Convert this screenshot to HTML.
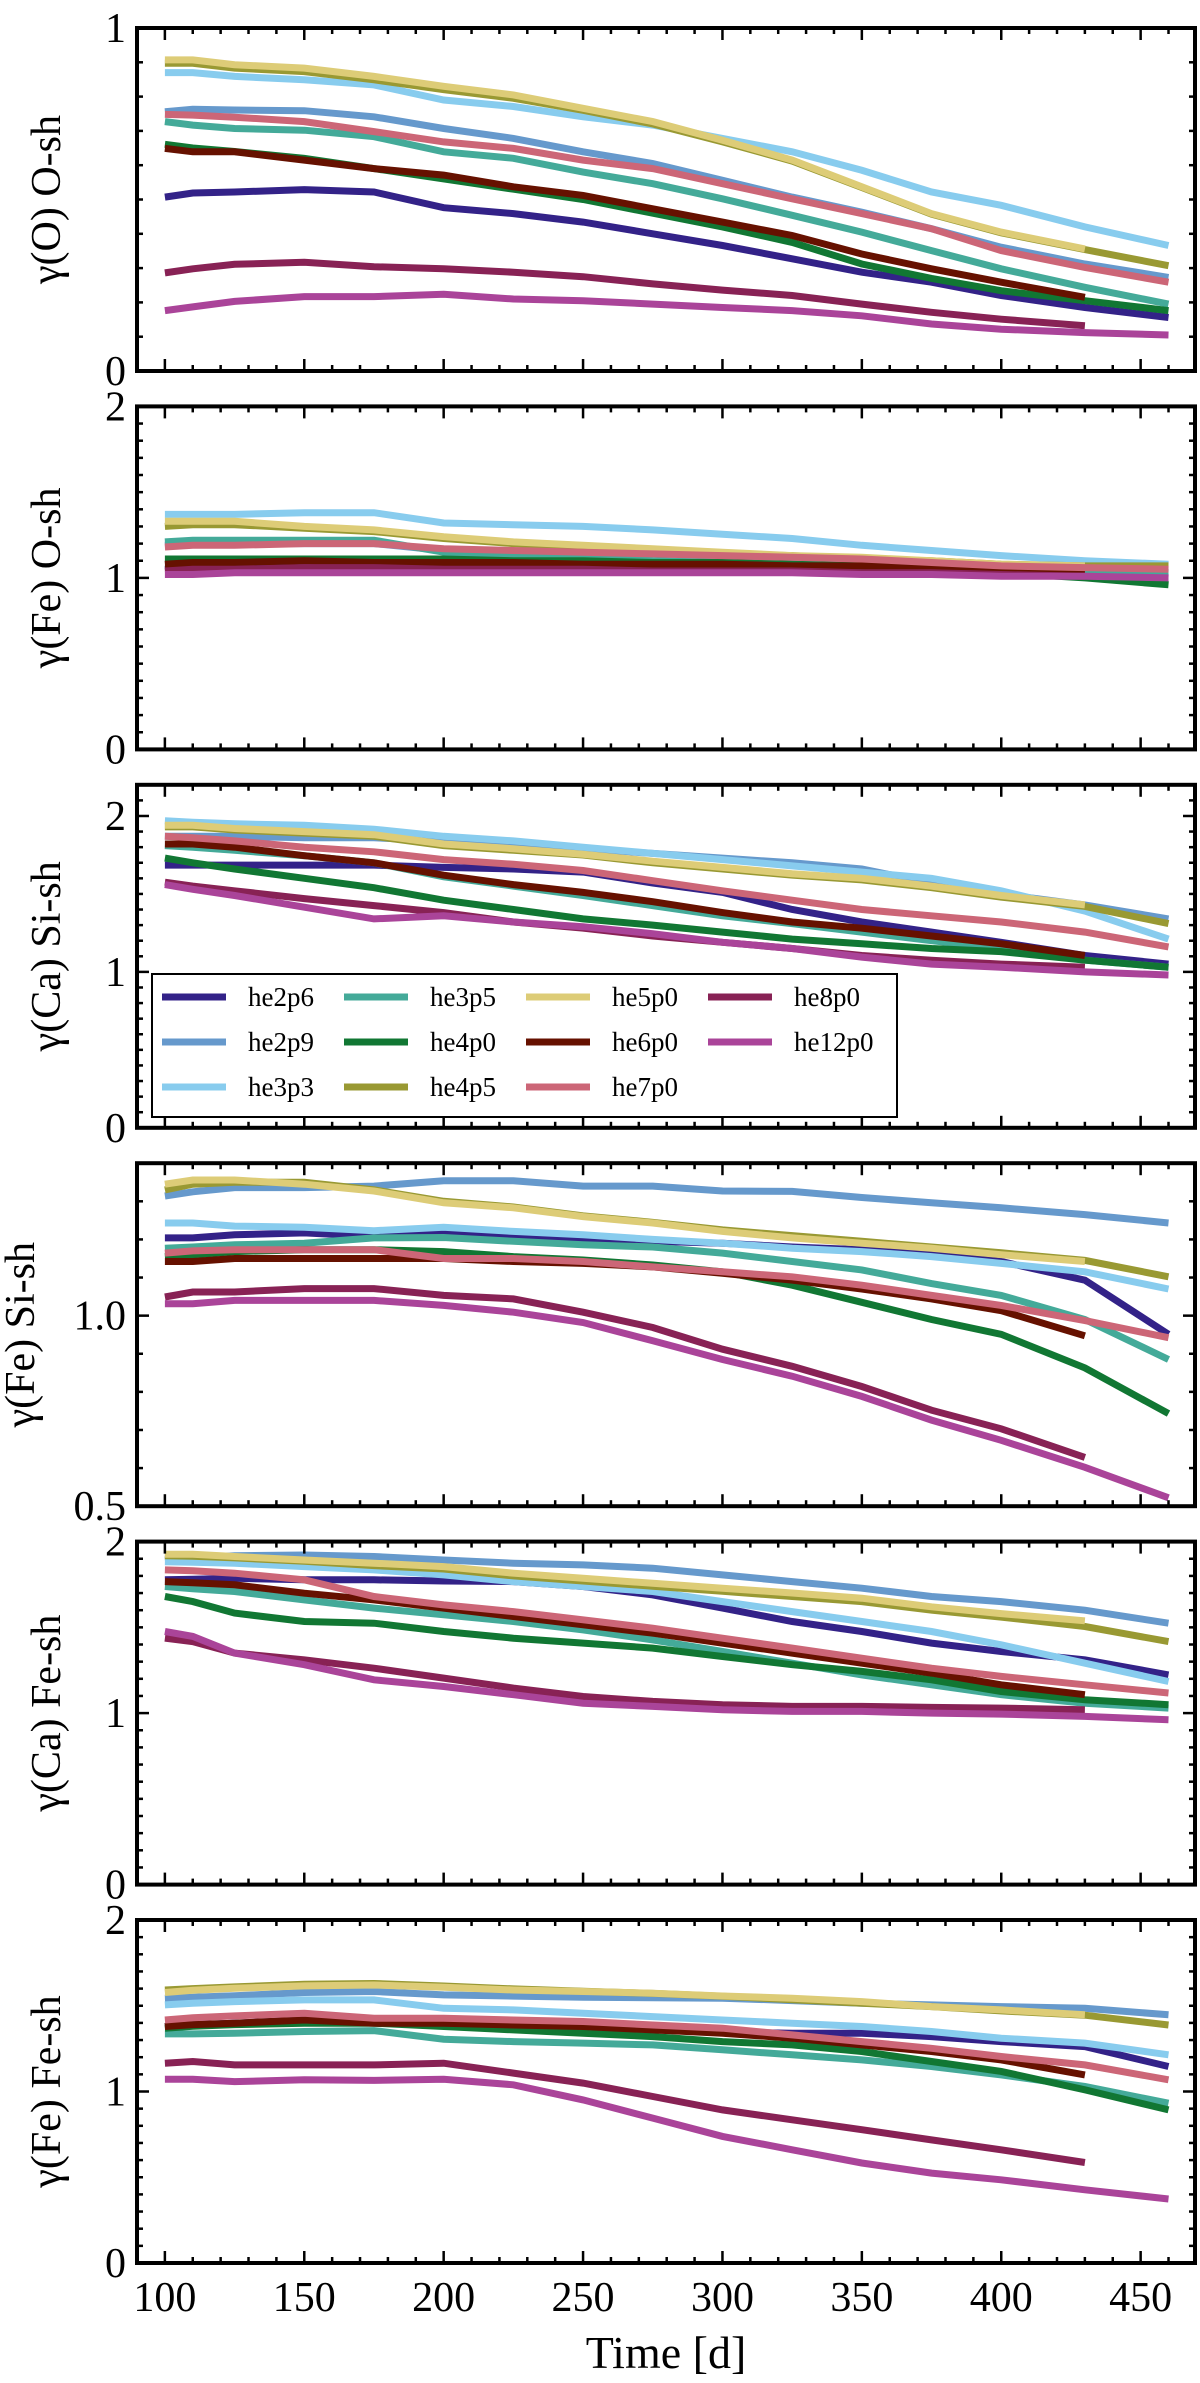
<!DOCTYPE html>
<html><head><meta charset="utf-8"><style>
html,body{margin:0;padding:0;background:#fff;}
svg{display:block;font-family:"Liberation Serif",serif;}
</style></head><body>
<svg id="chart" width="1200" height="2383" viewBox="0 0 1200 2383" xmlns="http://www.w3.org/2000/svg"></svg>
<script>
const times = [100,110,125,150,175,200,225,250,275,300,325,350,375,400,430,460];
const seriesNames = ["he2p6","he2p9","he3p3","he3p5","he4p0","he4p5","he5p0","he6p0","he7p0","he8p0","he12p0"];
const seriesColors = ["#332288","#6699CC","#88CCEE","#44AA99","#117733","#999933","#DDCC77","#661100","#CC6677","#882255","#AA4499"];
const xTicks = [100,150,200,250,300,350,400,450];

const p1 = {
he2p6:[0.507,0.519,0.522,0.529,0.522,0.476,0.459,0.434,0.40,0.366,0.327,0.288,0.259,0.22,0.185,0.156],
he2p9:[0.756,0.763,0.761,0.759,0.741,0.707,0.678,0.639,0.605,0.556,0.507,0.463,0.415,0.361,0.312,0.273],
he3p3:[0.87,0.87,0.859,0.849,0.834,0.79,0.771,0.741,0.717,0.678,0.639,0.585,0.522,0.483,0.42,0.366],
he3p5:[0.727,0.717,0.707,0.702,0.683,0.639,0.62,0.58,0.546,0.502,0.454,0.405,0.351,0.298,0.244,0.195],
he4p0:[0.661,0.65,0.64,0.62,0.59,0.56,0.53,0.50,0.46,0.42,0.375,0.312,0.27,0.234,0.205,0.176],
he4p5:[0.897,0.897,0.883,0.873,0.849,0.82,0.795,0.76,0.72,0.668,0.612,0.535,0.457,0.403,0.354,0.307],
he5p0:[0.907,0.907,0.893,0.883,0.859,0.83,0.805,0.766,0.727,0.673,0.615,0.537,0.459,0.405,0.356],
he6p0:[0.649,0.639,0.639,0.615,0.59,0.571,0.537,0.512,0.473,0.434,0.395,0.341,0.298,0.259,0.215],
he7p0:[0.748,0.746,0.74,0.727,0.698,0.668,0.649,0.615,0.59,0.546,0.502,0.459,0.415,0.351,0.302,0.259],
he8p0:[0.286,0.298,0.311,0.317,0.304,0.298,0.288,0.275,0.254,0.236,0.22,0.195,0.171,0.151,0.132],
he12p0:[0.176,0.187,0.203,0.217,0.217,0.224,0.21,0.205,0.195,0.185,0.176,0.161,0.137,0.122,0.112,0.105]
};
const p2 = {
he2p6:[1.05,1.06,1.06,1.06,1.06,1.05,1.05,1.04,1.04,1.04,1.04,1.03,1.03,1.02,1.01,1.0],
he2p9:[1.19,1.2,1.2,1.2,1.2,1.16,1.14,1.12,1.1,1.09,1.08,1.07,1.06,1.05,1.04,1.03],
he3p3:[1.37,1.37,1.37,1.38,1.38,1.32,1.31,1.30,1.28,1.255,1.23,1.19,1.16,1.13,1.10,1.08],
he3p5:[1.21,1.22,1.22,1.22,1.22,1.15,1.13,1.12,1.10,1.09,1.08,1.07,1.06,1.05,1.04,1.03],
he4p0:[1.11,1.11,1.11,1.11,1.11,1.11,1.10,1.10,1.09,1.09,1.08,1.07,1.05,1.03,1.0,0.96],
he4p5:[1.30,1.31,1.31,1.29,1.27,1.23,1.20,1.18,1.16,1.14,1.13,1.11,1.10,1.08,1.07,1.07],
he5p0:[1.33,1.33,1.33,1.30,1.28,1.24,1.21,1.19,1.17,1.15,1.13,1.12,1.10,1.08,1.07],
he6p0:[1.08,1.09,1.09,1.10,1.09,1.09,1.09,1.08,1.08,1.08,1.07,1.07,1.06,1.05,1.03],
he7p0:[1.18,1.19,1.19,1.20,1.20,1.17,1.16,1.15,1.14,1.13,1.12,1.11,1.09,1.07,1.06,1.05],
he8p0:[1.04,1.05,1.05,1.06,1.06,1.05,1.05,1.05,1.04,1.04,1.04,1.03,1.03,1.02,1.01],
he12p0:[1.02,1.02,1.03,1.03,1.03,1.03,1.03,1.03,1.03,1.03,1.03,1.02,1.02,1.01,1.01,1.0]
};
const p3 = {
he2p6:[1.685,1.685,1.685,1.685,1.685,1.67,1.66,1.64,1.57,1.51,1.40,1.32,1.255,1.19,1.105,1.05],
he2p9:[1.87,1.87,1.87,1.86,1.86,1.84,1.82,1.79,1.76,1.73,1.70,1.66,1.57,1.50,1.43,1.34],
he3p3:[1.97,1.96,1.95,1.94,1.915,1.87,1.84,1.80,1.76,1.72,1.68,1.64,1.60,1.52,1.39,1.21],
he3p5:[1.81,1.80,1.78,1.745,1.70,1.61,1.55,1.49,1.425,1.36,1.31,1.255,1.20,1.15,1.075,1.03],
he4p0:[1.73,1.70,1.66,1.60,1.54,1.46,1.40,1.34,1.30,1.255,1.21,1.18,1.15,1.13,1.075,1.03],
he4p5:[1.93,1.93,1.91,1.89,1.87,1.81,1.78,1.75,1.70,1.66,1.62,1.59,1.54,1.48,1.42,1.31],
he5p0:[1.94,1.94,1.92,1.90,1.88,1.82,1.79,1.755,1.71,1.67,1.63,1.60,1.55,1.49,1.43],
he6p0:[1.82,1.82,1.80,1.745,1.70,1.62,1.56,1.51,1.45,1.38,1.32,1.28,1.23,1.18,1.105],
he7p0:[1.87,1.86,1.84,1.80,1.77,1.72,1.69,1.65,1.585,1.52,1.46,1.40,1.36,1.32,1.255,1.16],
he8p0:[1.575,1.55,1.52,1.47,1.425,1.38,1.32,1.28,1.23,1.19,1.15,1.105,1.075,1.05,1.03],
he12p0:[1.56,1.53,1.49,1.415,1.34,1.36,1.32,1.29,1.245,1.19,1.15,1.095,1.05,1.03,1.0,0.98]
};
const p4 = {
he2p6:[1.204,1.204,1.212,1.217,1.208,1.217,1.208,1.2,1.195,1.19,1.18,1.173,1.16,1.142,1.093,0.951],
he2p9:[1.314,1.325,1.336,1.336,1.34,1.354,1.354,1.34,1.34,1.327,1.326,1.31,1.296,1.283,1.265,1.243],
he3p3:[1.243,1.243,1.235,1.232,1.223,1.232,1.221,1.212,1.2,1.19,1.177,1.168,1.155,1.137,1.115,1.07],
he3p5:[1.177,1.18,1.186,1.19,1.204,1.205,1.195,1.186,1.18,1.164,1.142,1.12,1.084,1.053,0.99,0.885],
he4p0:[1.155,1.16,1.168,1.173,1.173,1.168,1.155,1.146,1.133,1.115,1.08,1.035,0.99,0.951,0.863,0.743],
he4p5:[1.33,1.345,1.35,1.35,1.33,1.30,1.285,1.262,1.245,1.225,1.21,1.195,1.18,1.165,1.145,1.102],
he5p0:[1.345,1.356,1.356,1.345,1.327,1.296,1.283,1.26,1.243,1.221,1.204,1.19,1.177,1.16,1.142],
he6p0:[1.142,1.142,1.15,1.15,1.15,1.15,1.142,1.137,1.128,1.111,1.093,1.07,1.044,1.013,0.947],
he7p0:[1.164,1.17,1.173,1.173,1.173,1.15,1.15,1.142,1.128,1.115,1.102,1.08,1.053,1.027,0.987,0.942],
he8p0:[1.049,1.062,1.062,1.071,1.071,1.053,1.044,1.009,0.969,0.912,0.867,0.814,0.752,0.703,0.628],
he12p0:[1.031,1.031,1.04,1.04,1.04,1.027,1.009,0.982,0.934,0.885,0.841,0.788,0.726,0.673,0.602,0.522]
};
const p5 = {
he2p6:[1.777,1.78,1.786,1.777,1.777,1.77,1.767,1.738,1.689,1.612,1.534,1.476,1.408,1.359,1.311,1.223],
he2p9:[1.893,1.905,1.918,1.922,1.913,1.893,1.874,1.864,1.845,1.806,1.767,1.728,1.68,1.65,1.60,1.524],
he3p3:[1.883,1.88,1.874,1.854,1.835,1.806,1.767,1.738,1.709,1.65,1.592,1.534,1.476,1.398,1.291,1.184],
he3p5:[1.738,1.725,1.709,1.66,1.612,1.573,1.534,1.485,1.427,1.359,1.291,1.223,1.165,1.107,1.058,1.029],
he4p0:[1.68,1.65,1.583,1.534,1.524,1.476,1.437,1.408,1.379,1.33,1.282,1.243,1.194,1.126,1.078,1.049],
he4p5:[1.918,1.915,1.905,1.885,1.86,1.84,1.80,1.77,1.74,1.71,1.68,1.65,1.60,1.56,1.505,1.417],
he5p0:[1.926,1.926,1.913,1.893,1.874,1.854,1.816,1.786,1.757,1.728,1.70,1.67,1.62,1.58,1.538],
he6p0:[1.767,1.76,1.748,1.699,1.66,1.612,1.563,1.515,1.466,1.408,1.35,1.291,1.233,1.165,1.107],
he7p0:[1.835,1.83,1.816,1.777,1.68,1.631,1.592,1.544,1.495,1.437,1.379,1.32,1.262,1.214,1.165,1.117],
he8p0:[1.437,1.417,1.35,1.311,1.262,1.204,1.146,1.097,1.068,1.049,1.039,1.039,1.033,1.029,1.019],
he12p0:[1.476,1.447,1.35,1.282,1.194,1.155,1.107,1.058,1.039,1.019,1.01,1.01,1.0,0.994,0.981,0.961]
};
const p6 = {
he2p6:[1.379,1.39,1.398,1.417,1.41,1.40,1.39,1.38,1.36,1.345,1.34,1.34,1.32,1.291,1.262,1.146],
he2p9:[1.544,1.55,1.558,1.577,1.583,1.563,1.556,1.55,1.547,1.544,1.53,1.515,1.505,1.495,1.485,1.447],
he3p3:[1.505,1.515,1.524,1.534,1.534,1.485,1.476,1.456,1.437,1.417,1.398,1.379,1.35,1.311,1.282,1.214],
he3p5:[1.336,1.336,1.34,1.35,1.355,1.305,1.291,1.282,1.272,1.243,1.214,1.184,1.146,1.097,1.029,0.932],
he4p0:[1.369,1.38,1.39,1.398,1.398,1.379,1.359,1.34,1.32,1.291,1.272,1.233,1.175,1.117,1.01,0.893],
he4p5:[1.592,1.60,1.61,1.625,1.63,1.615,1.598,1.585,1.572,1.555,1.535,1.515,1.495,1.47,1.445,1.388],
he5p0:[1.577,1.59,1.602,1.616,1.621,1.608,1.592,1.583,1.573,1.557,1.544,1.524,1.495,1.476,1.447],
he6p0:[1.379,1.39,1.398,1.417,1.398,1.398,1.388,1.379,1.359,1.34,1.311,1.272,1.233,1.184,1.097],
he7p0:[1.417,1.43,1.441,1.456,1.427,1.427,1.417,1.408,1.388,1.369,1.33,1.291,1.252,1.204,1.155,1.068],
he8p0:[1.165,1.175,1.155,1.155,1.155,1.165,1.107,1.049,0.971,0.893,0.835,0.777,0.718,0.66,0.586],
he12p0:[1.072,1.072,1.058,1.068,1.065,1.072,1.039,0.951,0.845,0.738,0.66,0.583,0.524,0.485,0.427,0.373]
};
const panelTitles = ["γ(O) O-sh","γ(Fe) O-sh","γ(Ca) Si-sh","γ(Fe) Si-sh","γ(Ca) Fe-sh","γ(Fe) Fe-sh"];
const panelYMin = [0,0,0,0.5,0,0];
const panelYMax = [1,2,2.2,1.4,2,2];
const panelYTickLabels = [["0","1"],["0","1","2"],["0","1","2"],["0.5","1.0"],["0","1","2"],["0","1","2"]];
const panelYTickValues = [[0,1],[0,1,2],[0,1,2],[0.5,1.0],[0,1,2],[0,1,2]];
const panelData = [p1,p2,p3,p4,p5,p6];

const NS = "http://www.w3.org/2000/svg";
const svg = document.getElementById("chart");
const X0 = 137, X1 = 1195, XMIN = 90, XMAX = 469.5;
const PTOP = 28, PSTEP = 378.4, PH = 343;
function xScale(t){ return X0 + (t - XMIN) / (XMAX - XMIN) * (X1 - X0); }
function mk(tag, attrs, parent){
  const el = document.createElementNS(NS, tag);
  for (const k in attrs) el.setAttribute(k, attrs[k]);
  (parent || svg).appendChild(el);
  return el;
}
panelData.forEach((data, pi) => {
  const top = PTOP + pi * PSTEP, bot = top + PH;
  const ymin = panelYMin[pi], ymax = panelYMax[pi];
  const yScale = v => bot - (v - ymin) / (ymax - ymin) * PH;
  const g = mk("g", {});
  
  
  seriesNames.forEach((name, si) => {
    const vals = data[name];
    const pts = vals.map((v, i) => xScale(times[i]).toFixed(1) + "," + yScale(v).toFixed(1)).join(" ");
    const pl = mk("polyline", {points: pts, fill: "none", stroke: seriesColors[si], "stroke-width": 7, "stroke-linejoin": "miter"}, g);
    
    
  });
  const tg = mk("g", {stroke: "#000", "stroke-width": 2.5}, g);
  
  
  for (let t = 90; t <= 469; t += 10) {
    const x = xScale(t), L = (t % 50 === 0) ? 12 : 6;
    mk("line", {x1: x, x2: x, y1: bot, y2: bot - L}, tg);
    mk("line", {x1: x, x2: x, y1: top, y2: top + L}, tg);
  }
  const nMin = Math.round((ymax - ymin) / 0.1);
  for (let k = 0; k <= nMin; k++) {
    const v = ymin + k * 0.1, y = yScale(v);
    const major = Math.abs(v - Math.round(v * 2) / 2) < 1e-6 && (pi === 3 ? true : Math.abs(v - Math.round(v)) < 1e-6);
    const L = major ? 12 : 6;
    mk("line", {x1: X0, x2: X0 + L, y1: y, y2: y}, tg);
    mk("line", {x1: X1, x2: X1 - L, y1: y, y2: y}, tg);
  }
  const frame = mk("rect", {x: X0, y: top, width: X1 - X0, height: PH, fill: "none", stroke: "#000", "stroke-width": 4}, g);
  
  
  panelYTickValues[pi].forEach((v, i) => {
    const tx = mk("text", {x: 126, y: yScale(v) + 14, "text-anchor": "end", "font-size": 42}, g);
    tx.textContent = panelYTickLabels[pi][i];
    
    
  });
  const cy = (top + bot) / 2;
  const tX = (pi === 3) ? 34 : 60;
  const yl = mk("text", {x: 0, y: 0, transform: "translate(" + tX + "," + cy + ") rotate(-90)", "text-anchor": "middle", "font-size": 42}, g);
  yl.textContent = panelTitles[pi];
  
  
});
const lastBot = PTOP + 5 * PSTEP + PH;
xTicks.forEach(t => {
  const tx = mk("text", {x: xScale(t), y: lastBot + 48, "text-anchor": "middle", "font-size": 42});
  tx.textContent = String(t);
  
  
});
const xt = mk("text", {x: 666, y: lastBot + 105, "text-anchor": "middle", "font-size": 46});
xt.textContent = "Time [d]";


const lg = mk("g", {});


const lb = mk("rect", {x: 152, y: 974, width: 745, height: 143, fill: "#fff", stroke: "#000", "stroke-width": 2}, lg);


const colX = [162, 344, 526, 708];
const rowY = [997, 1042, 1087];
seriesNames.forEach((name, si) => {
  const c = Math.floor(si / 3), r = si % 3;
  const e = mk("g", {}, lg);
  
  
  mk("line", {x1: colX[c], x2: colX[c] + 64, y1: rowY[r], y2: rowY[r], stroke: seriesColors[si], "stroke-width": 7}, e);
  const tx = mk("text", {x: colX[c] + 86, y: rowY[r] + 9, "font-size": 27}, e);
  tx.textContent = name;
});
</script>
</body></html>
